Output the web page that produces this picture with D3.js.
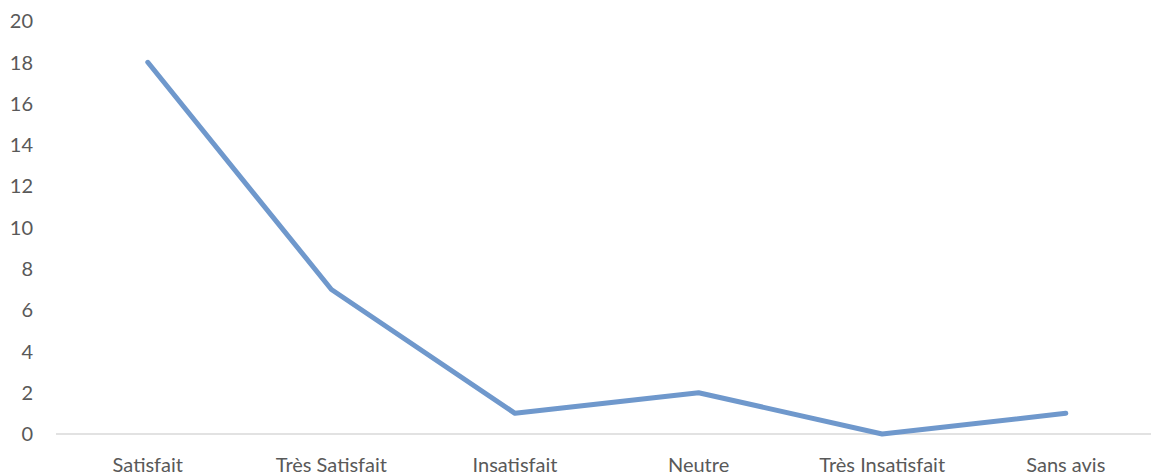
<!DOCTYPE html>
<html><head><meta charset="utf-8">
<script src="https://cdn.jsdelivr.net/npm/d3@7"></script>
<style>body{margin:0;background:#fff}text{font-family:Lato,"Open Sans",sans-serif;fill:#595959}</style>
</head><body><svg id="c" width="1151" height="475"></svg>
<script>
const categories=["Satisfait","Très Satisfait","Insatisfait","Neutre","Très Insatisfait","Sans avis"];
const values=[18,7,1,2,0,1];
const yTicks=[0,2,4,6,8,10,12,14,16,18,20];
const svg=d3.select("#c");
const x=d3.scaleBand().domain(categories).range([56,1157.6]);
const y=d3.scaleLinear().domain([0,20]).range([434,21]);
svg.append("line").attr("x1",56).attr("x2",1151).attr("y1",y(0)).attr("y2",y(0)).attr("stroke","#d9d9d9").attr("stroke-width",1.5);
svg.selectAll(".yl").data(yTicks).enter().append("text").attr("x",33).attr("y",d=>y(d)).attr("dy","0.36em").attr("text-anchor","end").style("font-size","20px").text(d=>d);
svg.selectAll(".xl").data(categories).enter().append("text").attr("x",d=>x(d)+x.bandwidth()/2).attr("y",472).attr("text-anchor","middle").style("font-size","20px").text(d=>d);
const line=d3.line().x((d,i)=>x(categories[i])+x.bandwidth()/2).y(d=>y(d));
svg.append("path").datum(values).attr("d",line).attr("fill","none").attr("stroke","#6f98cc").attr("stroke-width",5).attr("stroke-linecap","round").attr("stroke-linejoin","round");
</script></body></html>
